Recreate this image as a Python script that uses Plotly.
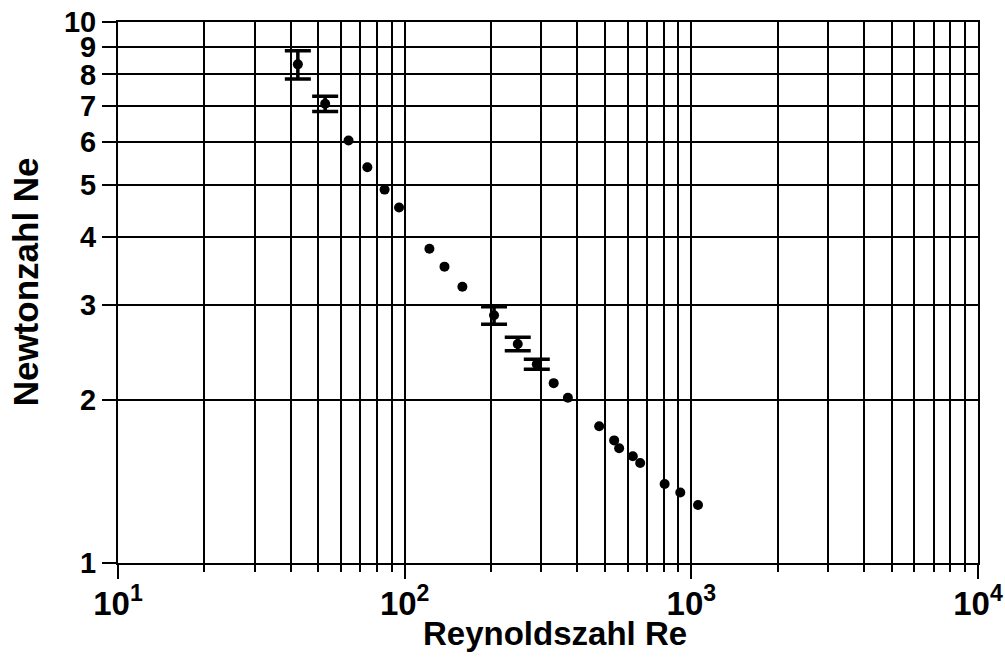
import plotly.graph_objects as go

# Reynolds number and Newton (power) number measurements
reynolds = [42.4, 52.8, 63.7, 74.1, 85.1, 95.6, 122, 137.7, 159, 205, 248, 289,
            331, 371, 477, 538, 560, 625, 663, 807, 915, 1055]
newton = [8.35, 7.06, 6.04, 5.39, 4.90, 4.54, 3.81, 3.53, 3.24, 2.87, 2.54, 2.33,
          2.15, 2.02, 1.79, 1.685, 1.63, 1.575, 1.53, 1.40, 1.35, 1.28]
# symmetric uncertainty (0 = no error bar drawn)
newton_err = [0.50, 0.23, 0, 0, 0, 0, 0, 0, 0, 0.107, 0.073, 0.05,
              0, 0, 0, 0, 0, 0, 0, 0, 0, 0]

# axis ticks
x_major_vals = [10, 100, 1000, 10000]
x_major_text = ["10<sup>1</sup>", "10<sup>2</sup>", "10<sup>3</sup>", "10<sup>4</sup>"]
x_minor_vals = [m * d for d in (10, 100, 1000) for m in range(2, 10)]
y_vals = [1, 2, 3, 4, 5, 6, 7, 8, 9, 10]
y_text = [str(v) for v in y_vals]

x_title = "Reynoldszahl Re"
y_title = "Newtonzahl Ne"

FONT = "Liberation Sans, Arial, sans-serif"

# split measurements into those with and without an uncertainty bar
with_err = [i for i, e in enumerate(newton_err) if e > 0]
no_err = [i for i, e in enumerate(newton_err) if e == 0]

fig = go.Figure()
fig.add_trace(go.Scatter(
    x=[reynolds[i] for i in no_err], y=[newton[i] for i in no_err],
    mode="markers", marker=dict(color="black", size=10, symbol="circle"),
    showlegend=False,
))
fig.add_trace(go.Scatter(
    x=[reynolds[i] for i in with_err], y=[newton[i] for i in with_err],
    mode="markers", marker=dict(color="black", size=10, symbol="circle"),
    error_y=dict(type="data", array=[newton_err[i] for i in with_err],
                 visible=True, color="black", thickness=3.5, width=13),
    showlegend=False,
))

fig.update_layout(
    width=1005, height=657,
    margin=dict(l=118, r=27, t=22, b=94),
    paper_bgcolor="white", plot_bgcolor="white",
    font=dict(family=FONT, color="black", weight="bold"),
)
fig.update_xaxes(
    type="log", range=[1, 4], automargin=False,
    tickmode="array", tickvals=x_major_vals, ticktext=x_major_text,
    ticks="outside", ticklen=14, tickwidth=2, tickcolor="black",
    ticklabelstandoff=-4,
    tickfont=dict(size=33, family=FONT, weight="bold"),
    showgrid=True, gridcolor="black", gridwidth=2,
    showline=True, linecolor="black", linewidth=2, mirror=True,
    zeroline=False,
    minor=dict(tickmode="array", tickvals=x_minor_vals, ticks="outside",
               ticklen=7, tickwidth=2, tickcolor="black",
               showgrid=True, gridcolor="black", gridwidth=2),
)
fig.update_yaxes(
    type="log", range=[0, 1], automargin=False,
    tickmode="array", tickvals=y_vals, ticktext=y_text,
    ticks="outside", ticklen=14, tickwidth=2, tickcolor="black",
    tickfont=dict(size=29, family=FONT, weight="bold"),
    showgrid=True, gridcolor="black", gridwidth=2,
    showline=True, linecolor="black", linewidth=2, mirror=True,
    zeroline=False,
)

# axis titles
fig.add_annotation(
    text=x_title, xref="paper", yref="paper", x=0.508, y=-0.131,
    xanchor="center", yanchor="middle", showarrow=False,
    font=dict(size=33, family=FONT, weight="bold", color="black"),
)
fig.add_annotation(
    text=y_title, xref="paper", yref="paper", x=-0.108, y=0.519,
    xanchor="center", yanchor="middle", textangle=-90, showarrow=False,
    font=dict(size=35, family=FONT, weight="bold", color="black"),
)

fig.write_html("out.html")
